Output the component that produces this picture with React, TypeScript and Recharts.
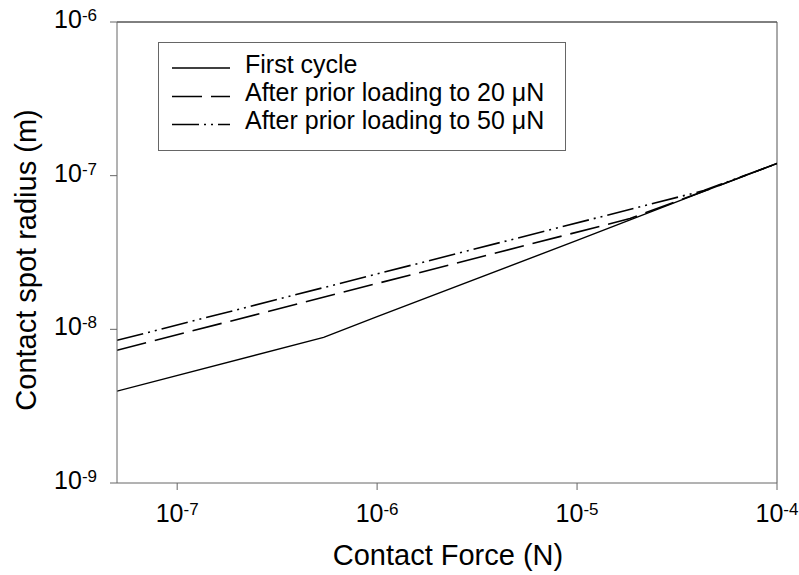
import React from 'react';
import { LineChart, Line, XAxis, YAxis, ReferenceLine, Legend } from 'recharts';

const forceFirst = [5e-8, 5.4e-7, 1e-6, 1e-5, 4.4e-5, 1e-4];
const radiusFirst = [3.96e-9, 8.87e-9, 1.21e-8, 3.79e-8, 8.0e-8, 1.2e-7];

const force20 = [5e-8, 1.84e-5, 4.4e-5, 1e-4];
const radius20 = [7.31e-9, 5.26e-8, 8.0e-8, 1.2e-7];

const force50 = [5e-8, 4.3e-5, 1e-4];
const radius50 = [8.48e-9, 8.0e-8, 1.2e-7];

const xTicks = [1e-7, 1e-6, 1e-5, 1e-4];
const yTicks = [1e-9, 1e-8, 1e-7, 1e-6];

const seriesNames = ['First cycle', 'After prior loading to 20 \u03BCN', 'After prior loading to 50 \u03BCN'];

const toRows = (fs: number[], rs: number[]) => fs.map((f, i) => ({ f, r: rs[i] }));
const dataFirst = toRows(forceFirst, radiusFirst);
const data20 = toRows(force20, radius20);
const data50 = toRows(force50, radius50);

const FONT = '"Liberation Sans", Arial, sans-serif';
const DASH20 = '30 9';
const DASH50 = '27 5 2 5 2 5';
const dashes = ['', DASH20, DASH50];

const XTick = (props: any) => {
  const { x, y, payload } = props;
  const e = Math.round(Math.log10(payload.value));
  return (
    <text x={x} y={y + 32} textAnchor="middle" fontFamily={FONT} fontSize={25} fill="#000">
      <tspan>10</tspan>
      <tspan fontSize={17} dy={-7}>{String(e)}</tspan>
    </text>
  );
};

const YTick = (props: any) => {
  const { x, y, payload } = props;
  const e = Math.round(Math.log10(payload.value));
  return (
    <text x={x - 13} y={y + 6} textAnchor="end" fontFamily={FONT} fontSize={25} fill="#000">
      <tspan>10</tspan>
      <tspan fontSize={17} dy={-7}>{String(e)}</tspan>
    </text>
  );
};

const renderLegend = () => {
  const rowsY = [68, 96.5, 124.5];
  return (
    <svg width={409} height={110} style={{ display: 'block' }}>
      <rect x={0.5} y={0.5} width={407} height={108} fill="#fff" stroke="#666" strokeWidth={1} />
      {seriesNames.map((name, i) => (
        <g key={name}>
          <line x1={14} x2={72} y1={rowsY[i] - 42} y2={rowsY[i] - 42} stroke="#000" strokeWidth={1.4}
            strokeDasharray={dashes[i] || undefined} />
          <text x={87} y={rowsY[i] - 42 + 4.5} fontFamily={FONT} fontSize={25} fill="#000">{name}</text>
        </g>
      ))}
    </svg>
  );
};

export default function App() {
  return (
    <div style={{ position: 'absolute', left: 0, top: 0, width: 799, height: 575, background: '#fff' }}>
      <LineChart width={799} height={575} margin={{ top: 22, right: 22, left: 17, bottom: 32 }}>
        <XAxis
          dataKey="f"
          type="number"
          scale="log"
          domain={[5e-8, 1e-4]}
          ticks={xTicks}
          allowDataOverflow
          height={60}
          tickSize={7}
          tickMargin={0}
          tick={<XTick />}
          stroke="#666"
          interval={0}
          label={{
            content: () => (
              <text x={448} y={565} textAnchor="middle" fontFamily={FONT} fontSize={29} fill="#000">
                Contact Force (N)
              </text>
            ),
          }}
        />
        <YAxis
          dataKey="r"
          type="number"
          scale="log"
          domain={[1e-9, 1e-6]}
          ticks={yTicks}
          allowDataOverflow
          width={100}
          tickSize={7}
          tickMargin={0}
          tick={<YTick />}
          stroke="#666"
          interval={0}
          label={{
            content: () => (
              <text x={36} y={260} transform="rotate(-90 36 260)" textAnchor="middle" fontFamily={FONT} fontSize={29} fill="#000">
                Contact spot radius (m)
              </text>
            ),
          }}
        />
        <ReferenceLine y={1e-6} stroke="#000" strokeWidth={1} />
        <ReferenceLine x={1e-4} stroke="#555" strokeWidth={1} />
        <Legend
          layout="vertical"
          align="center"
          verticalAlign="middle"
          content={renderLegend}
          wrapperStyle={{ position: 'absolute', left: 158, top: 42, width: 409, height: 110 }}
        />
        <Line data={dataFirst} dataKey="r" name={seriesNames[0]} stroke="#000" strokeWidth={1.4} dot={false} isAnimationActive={false} />
        <Line data={data20} dataKey="r" name={seriesNames[1]} stroke="#000" strokeWidth={1.6} strokeDasharray={DASH20} dot={false} isAnimationActive={false} />
        <Line data={data50} dataKey="r" name={seriesNames[2]} stroke="#000" strokeWidth={1.6} strokeDasharray={DASH50} dot={false} isAnimationActive={false} />
      </LineChart>
    </div>
  );
}
